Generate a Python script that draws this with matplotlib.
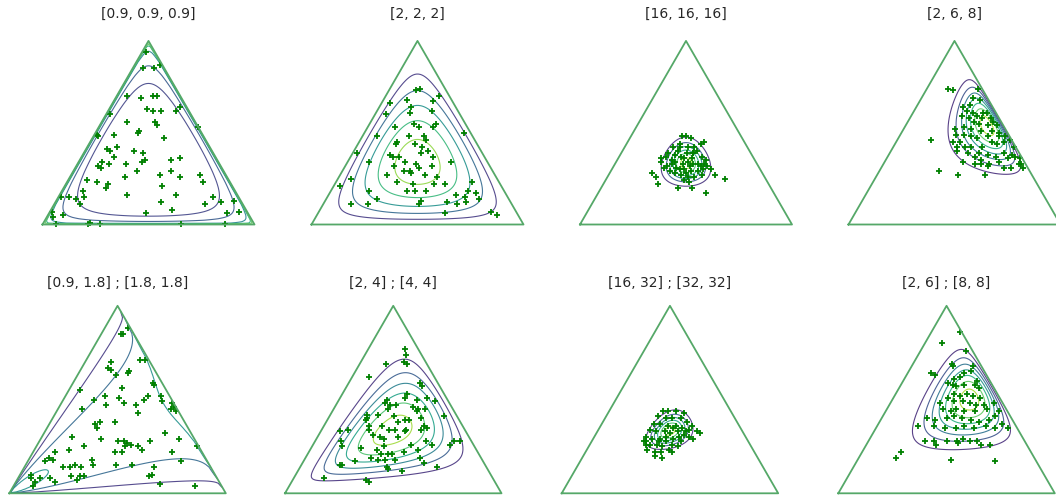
import math
import numpy as np
import matplotlib
matplotlib.use("Agg")
import matplotlib.pyplot as plt
import matplotlib.tri as tri
from matplotlib.colors import Normalize

# ---------------------------------------------------------------------------
# Parameters
# ---------------------------------------------------------------------------
# Top row: Dirichlet concentration vectors
dir_alpha_1 = [0.9, 0.9, 0.9]
dir_alpha_2 = [2, 2, 2]
dir_alpha_3 = [16, 16, 16]
dir_alpha_4 = [2, 6, 8]

# Bottom row: generalized (Connor-Mosimann) Dirichlet, shapes a ; b
gd_a_5, gd_b_5 = [0.9, 1.8], [1.8, 1.8]
gd_a_6, gd_b_6 = [2, 4], [4, 4]
gd_a_7, gd_b_7 = [16, 32], [32, 32]
gd_a_8, gd_b_8 = [2, 6], [8, 8]

titles = ["[0.9, 0.9, 0.9]", "[2, 2, 2]", "[16, 16, 16]", "[2, 6, 8]",
          "[0.9, 1.8] ; [1.8, 1.8]", "[2, 4] ; [4, 4]",
          "[16, 32] ; [32, 32]", "[2, 6] ; [8, 8]"]

# Drawn samples as (share of component 2, share of component 3);
# component 1 takes the remainder.
samples_1 = [
    (0.02, 0.94), (0.05, 0.85), (0.10, 0.85), (0.12, 0.87), (0.12, 0.69), (0.17, 0.70),
    (0.19, 0.70), (0.18, 0.63), (0.21, 0.62), (0.25, 0.62), (0.33, 0.64), (0.32, 0.62),
    (0.05, 0.70), (0.02, 0.60), (0.12, 0.56), (0.25, 0.56), (0.27, 0.54), (0.09, 0.49),
    (0.20, 0.50), (0.20, 0.51), (0.34, 0.47), (0.01, 0.49), (0.02, 0.48), (0.47, 0.53),
    (0.10, 0.41), (0.14, 0.42), (0.12, 0.40), (0.15, 0.37), (0.23, 0.40), (0.28, 0.39),
    (0.31, 0.35), (0.30, 0.34), (0.43, 0.35), (0.47, 0.36), (0.11, 0.34), (0.10, 0.32),
    (0.15, 0.33), (0.12, 0.31), (0.23, 0.33), (0.30, 0.29), (0.26, 0.26), (0.42, 0.27),
    (0.46, 0.29), (0.52, 0.26), (0.61, 0.27), (0.09, 0.24), (0.14, 0.23), (0.20, 0.22),
    (0.20, 0.20), (0.46, 0.21), (0.64, 0.23), (0.10, 0.18), (0.12, 0.15), (0.32, 0.16),
    (0.55, 0.16), (0.73, 0.15), (0.50, 0.12), (0.57, 0.08), (0.01, 0.15), (0.05, 0.15),
    (0.09, 0.14), (0.12, 0.11), (0.71, 0.11), (0.78, 0.12), (0.84, 0.13), (0.84, 0.06),
    (0.89, 0.07), (0.46, 0.06), (0.01, 0.07), (0.07, 0.05), (0.03, 0.04), (0.22, 0.01),
    (0.21, 0.005), (0.27, 0.005), (0.06, 0.005), (0.65, 0.005), (0.86, 0.005)]

samples_2 = [
    (0.14, 0.74), (0.13, 0.73), (0.25, 0.70), (0.24, 0.67), (0.11, 0.68), (0.04, 0.66),
    (0.05, 0.60), (0.15, 0.64), (0.16, 0.61), (0.26, 0.62), (0.31, 0.55), (0.31, 0.53),
    (0.21, 0.55), (0.24, 0.53), (0.13, 0.53), (0.07, 0.48), (0.22, 0.48), (0.18, 0.45),
    (0.18, 0.44), (0.29, 0.48), (0.31, 0.46), (0.31, 0.42), (0.27, 0.44), (0.47, 0.50),
    (0.02, 0.39), (0.18, 0.38), (0.20, 0.37), (0.23, 0.37), (0.27, 0.34), (0.32, 0.39),
    (0.35, 0.40), (0.39, 0.37), (0.33, 0.33), (0.35, 0.31), (0.49, 0.34), (0.10, 0.34),
    (0.23, 0.32), (0.32, 0.29), (0.33, 0.28), (0.40, 0.27), (0.41, 0.32), (0.22, 0.27),
    (0.29, 0.29), (0.06, 0.25), (0.03, 0.21), (0.29, 0.23), (0.37, 0.22), (0.47, 0.22),
    (0.52, 0.22), (0.18, 0.18), (0.36, 0.18), (0.40, 0.18), (0.24, 0.14), (0.45, 0.18),
    (0.60, 0.16), (0.65, 0.18), (0.69, 0.17), (0.65, 0.15), (0.13, 0.11), (0.21, 0.11),
    (0.45, 0.13), (0.45, 0.11), (0.58, 0.12), (0.63, 0.11), (0.67, 0.12), (0.60, 0.06),
    (0.81, 0.07), (0.85, 0.05), (0.46, 0.26), (0.64, 0.23), (0.72, 0.14)]

samples_3 = [
    (0.20, 0.28), (0.23, 0.26), (0.26, 0.22), (0.36, 0.20), (0.43, 0.20), (0.51, 0.17),
    (0.56, 0.25), (0.50, 0.27), (0.20, 0.36), (0.24, 0.48), (0.26, 0.48), (0.29, 0.47),
    (0.36, 0.45), (0.35, 0.44), (0.23, 0.42), (0.25, 0.44), (0.22, 0.39), (0.22, 0.37),
    (0.26, 0.38), (0.29, 0.37), (0.31, 0.39), (0.34, 0.39), (0.35, 0.40), (0.39, 0.37),
    (0.42, 0.35), (0.28, 0.34), (0.32, 0.33), (0.34, 0.34), (0.37, 0.33), (0.39, 0.33),
    (0.27, 0.33), (0.25, 0.32), (0.30, 0.31), (0.34, 0.30), (0.38, 0.29), (0.41, 0.29),
    (0.43, 0.30), (0.44, 0.32), (0.31, 0.28), (0.34, 0.27), (0.38, 0.26), (0.41, 0.26),
    (0.44, 0.27), (0.37, 0.24), (0.40, 0.23), (0.28, 0.29), (0.24, 0.31), (0.26, 0.40),
    (0.35, 0.36), (0.41, 0.32), (0.21, 0.34), (0.26, 0.42), (0.30, 0.42), (0.33, 0.42),
    (0.47, 0.30), (0.31, 0.36), (0.36, 0.32), (0.32, 0.30), (0.34, 0.39), (0.36, 0.28),
    (0.26, 0.35), (0.42, 0.33)]

samples_4 = [
    (0.10, 0.74), (0.13, 0.73), (0.16, 0.46), (0.28, 0.29), (0.38, 0.27), (0.51, 0.27),
    (0.24, 0.74), (0.24, 0.69), (0.28, 0.68), (0.25, 0.65), (0.22, 0.64), (0.25, 0.62),
    (0.28, 0.61), (0.33, 0.61), (0.35, 0.61), (0.24, 0.59), (0.28, 0.58), (0.31, 0.59),
    (0.34, 0.58), (0.38, 0.58), (0.40, 0.56), (0.31, 0.56), (0.34, 0.55), (0.39, 0.54),
    (0.43, 0.54), (0.24, 0.52), (0.28, 0.53), (0.32, 0.52), (0.37, 0.51), (0.42, 0.51),
    (0.46, 0.50), (0.26, 0.49), (0.30, 0.49), (0.34, 0.48), (0.37, 0.47), (0.42, 0.48),
    (0.47, 0.48), (0.50, 0.48), (0.30, 0.42), (0.34, 0.42), (0.37, 0.42), (0.42, 0.42),
    (0.45, 0.45), (0.48, 0.44), (0.51, 0.45), (0.53, 0.46), (0.31, 0.40), (0.37, 0.39),
    (0.42, 0.39), (0.47, 0.38), (0.51, 0.37), (0.54, 0.39), (0.58, 0.38), (0.37, 0.34),
    (0.43, 0.33), (0.45, 0.35), (0.50, 0.33), (0.54, 0.34), (0.57, 0.36), (0.60, 0.37),
    (0.65, 0.33), (0.67, 0.31), (0.46, 0.33), (0.50, 0.32), (0.58, 0.31), (0.61, 0.31),
    (0.64, 0.33), (0.41, 0.37), (0.30, 0.45), (0.27, 0.45), (0.57, 0.42), (0.63, 0.36)]

samples_5 = [
    (0.09, 0.85), (0.10, 0.85), (0.11, 0.88), (0.12, 0.70), (0.12, 0.67), (0.14, 0.66),
    (0.23, 0.65), (0.23, 0.64), (0.18, 0.63), (0.25, 0.71), (0.27, 0.71), (0.05, 0.55),
    (0.24, 0.56), (0.37, 0.59), (0.38, 0.58), (0.44, 0.52), (0.46, 0.49), (0.14, 0.50),
    (0.18, 0.52), (0.21, 0.47), (0.25, 0.51), (0.29, 0.48), (0.35, 0.47), (0.38, 0.43),
    (0.37, 0.50), (0.38, 0.52), (0.51, 0.48), (0.53, 0.46), (0.52, 0.45), (0.55, 0.44),
    (0.11, 0.45), (0.23, 0.38), (0.21, 0.37), (0.23, 0.35), (0.30, 0.38), (0.14, 0.30),
    (0.28, 0.29), (0.36, 0.28), (0.39, 0.28), (0.41, 0.27), (0.41, 0.25), (0.43, 0.26),
    (0.47, 0.25), (0.50, 0.23), (0.51, 0.28), (0.56, 0.32), (0.64, 0.29), (0.74, 0.25),
    (0.10, 0.22), (0.16, 0.23), (0.22, 0.25), (0.38, 0.22), (0.41, 0.22), (0.09, 0.19),
    (0.08, 0.17), (0.11, 0.18), (0.18, 0.14), (0.21, 0.14), (0.23, 0.15), (0.26, 0.14),
    (0.29, 0.18), (0.31, 0.15), (0.42, 0.15), (0.49, 0.15), (0.60, 0.14), (0.71, 0.17),
    (0.64, 0.22), (0.05, 0.10), (0.06, 0.08), (0.10, 0.08), (0.09, 0.06), (0.18, 0.06),
    (0.15, 0.08), (0.28, 0.09), (0.30, 0.09), (0.28, 0.07), (0.60, 0.09), (0.61, 0.10),
    (0.67, 0.05), (0.84, 0.04), (0.09, 0.04), (0.24, 0.09)]

samples_6 = [
    (0.17, 0.77), (0.19, 0.74), (0.20, 0.70), (0.22, 0.69), (0.12, 0.69), (0.08, 0.62),
    (0.33, 0.59), (0.35, 0.57), (0.30, 0.53), (0.30, 0.51), (0.36, 0.50), (0.40, 0.51),
    (0.45, 0.49), (0.22, 0.50), (0.22, 0.48), (0.25, 0.47), (0.25, 0.45), (0.28, 0.47),
    (0.36, 0.46), (0.39, 0.45), (0.42, 0.45), (0.17, 0.42), (0.18, 0.40), (0.18, 0.39),
    (0.21, 0.36), (0.22, 0.42), (0.30, 0.41), (0.33, 0.38), (0.36, 0.39), (0.38, 0.39),
    (0.39, 0.44), (0.43, 0.40), (0.46, 0.36), (0.48, 0.35), (0.53, 0.41), (0.22, 0.34),
    (0.27, 0.36), (0.31, 0.34), (0.34, 0.34), (0.39, 0.34), (0.46, 0.34), (0.09, 0.33),
    (0.12, 0.34), (0.25, 0.31), (0.29, 0.30), (0.31, 0.29), (0.37, 0.30), (0.39, 0.33),
    (0.64, 0.28), (0.67, 0.28), (0.12, 0.28), (0.14, 0.25), (0.23, 0.24), (0.33, 0.25),
    (0.45, 0.26), (0.51, 0.28), (0.63, 0.26), (0.55, 0.26), (0.31, 0.23), (0.34, 0.21),
    (0.37, 0.21), (0.39, 0.21), (0.44, 0.22), (0.50, 0.23), (0.30, 0.19), (0.34, 0.18),
    (0.37, 0.18), (0.42, 0.18), (0.53, 0.19), (0.56, 0.16), (0.18, 0.15), (0.19, 0.15),
    (0.24, 0.17), (0.40, 0.14), (0.41, 0.13), (0.48, 0.12), (0.63, 0.14), (0.14, 0.08),
    (0.34, 0.07), (0.36, 0.06)]

samples_7 = [
    (0.25, 0.44), (0.27, 0.44), (0.31, 0.44), (0.35, 0.43), (0.24, 0.41), (0.28, 0.40),
    (0.31, 0.40), (0.35, 0.40), (0.39, 0.38), (0.42, 0.36), (0.46, 0.33), (0.48, 0.32),
    (0.24, 0.37), (0.27, 0.37), (0.31, 0.36), (0.35, 0.36), (0.38, 0.35), (0.42, 0.34),
    (0.24, 0.34), (0.27, 0.33), (0.31, 0.33), (0.34, 0.32), (0.37, 0.33), (0.41, 0.31),
    (0.44, 0.30), (0.24, 0.30), (0.27, 0.29), (0.31, 0.29), (0.34, 0.28), (0.37, 0.29),
    (0.41, 0.28), (0.25, 0.28), (0.28, 0.26), (0.31, 0.26), (0.34, 0.25), (0.38, 0.26),
    (0.41, 0.25), (0.28, 0.23), (0.32, 0.22), (0.35, 0.22), (0.38, 0.23), (0.33, 0.20),
    (0.37, 0.19), (0.26, 0.26), (0.24, 0.28), (0.46, 0.29), (0.40, 0.22), (0.34, 0.35),
    (0.39, 0.30), (0.31, 0.28), (0.41, 0.33), (0.33, 0.30)]

samples_8 = [
    (0.13, 0.86), (0.08, 0.80), (0.21, 0.76), (0.18, 0.69), (0.19, 0.68), (0.28, 0.68),
    (0.11, 0.64), (0.13, 0.63), (0.23, 0.61), (0.26, 0.64), (0.25, 0.62), (0.29, 0.65),
    (0.34, 0.60), (0.21, 0.59), (0.24, 0.58), (0.26, 0.57), (0.29, 0.58), (0.34, 0.58),
    (0.37, 0.56), (0.27, 0.53), (0.30, 0.52), (0.33, 0.53), (0.36, 0.52), (0.40, 0.51),
    (0.23, 0.48), (0.25, 0.51), (0.29, 0.49), (0.33, 0.49), (0.37, 0.48), (0.40, 0.47),
    (0.44, 0.47), (0.26, 0.45), (0.30, 0.44), (0.32, 0.45), (0.36, 0.44), (0.41, 0.44),
    (0.46, 0.45), (0.48, 0.48), (0.52, 0.44), (0.21, 0.40), (0.25, 0.39), (0.30, 0.40),
    (0.33, 0.41), (0.37, 0.40), (0.42, 0.39), (0.46, 0.38), (0.50, 0.39), (0.52, 0.41),
    (0.19, 0.36), (0.26, 0.36), (0.32, 0.35), (0.37, 0.35), (0.40, 0.36), (0.45, 0.35),
    (0.50, 0.36), (0.55, 0.35), (0.57, 0.37), (0.61, 0.35), (0.26, 0.28), (0.30, 0.28),
    (0.32, 0.26), (0.36, 0.28), (0.41, 0.28), (0.42, 0.27), (0.43, 0.29), (0.47, 0.28),
    (0.50, 0.28), (0.53, 0.26), (0.57, 0.26), (0.18, 0.22), (0.17, 0.19), (0.43, 0.18),
    (0.64, 0.17)]

# ---------------------------------------------------------------------------
# Simplex geometry and densities
# ---------------------------------------------------------------------------
SQ = math.sqrt(3) / 2
corners = np.array([[0.0, 0.0], [1.0, 0.0], [0.5, SQ]])
triangle = tri.Triangulation(corners[:, 0], corners[:, 1])
mesh = tri.UniformTriRefiner(triangle).refine_triangulation(subdiv=7)


def to_bary(x, y, tol=1e-4):
    c = y / SQ
    b = x - c / 2
    a = 1 - b - c
    return [np.clip(v, tol, 1 - tol) for v in (a, b, c)]


def log_beta(u, v):
    return math.lgamma(u) + math.lgamma(v) - math.lgamma(u + v)


def dirichlet_pdf(alpha, p):
    lc = math.lgamma(sum(alpha)) - sum(math.lgamma(a) for a in alpha)
    return np.exp(lc + sum((a - 1) * np.log(v) for a, v in zip(alpha, p)))


def gen_dirichlet_pdf(a, b, p):
    x1, x2, x3 = p
    lc = -log_beta(a[0], b[0]) - log_beta(a[1], b[1])
    return np.exp(lc + (a[0] - 1) * np.log(x1)
                  + (b[0] - a[1] - b[1]) * np.log(1 - x1)
                  + (a[1] - 1) * np.log(x2) + (b[1] - 1) * np.log(x3))


def to_plane(samples):
    s = np.array(samples, dtype=float)
    return s[:, 0] + s[:, 1] / 2, s[:, 1] * SQ


p_mesh = to_bary(mesh.x, mesh.y)
densities = [
    dirichlet_pdf(dir_alpha_1, p_mesh), dirichlet_pdf(dir_alpha_2, p_mesh),
    dirichlet_pdf(dir_alpha_3, p_mesh), dirichlet_pdf(dir_alpha_4, p_mesh),
    gen_dirichlet_pdf(gd_a_5, gd_b_5, p_mesh), gen_dirichlet_pdf(gd_a_6, gd_b_6, p_mesh),
    gen_dirichlet_pdf(gd_a_7, gd_b_7, p_mesh), gen_dirichlet_pdf(gd_a_8, gd_b_8, p_mesh),
]
all_samples = [samples_1, samples_2, samples_3, samples_4,
               samples_5, samples_6, samples_7, samples_8]


def even_levels(z, n):
    step = z.max() / (n + 0.55)
    return step * np.arange(1, n + 1), Normalize(0, step * (n + 1))


# contour settings: unbounded densities get explicit levels
contour_cfg = [
    ([2.0, 2.2, 2.6, 3.0, 3.4], Normalize(1.5, 4.0)),
    5, 6, 7,
    ([1.0, 2.0, 3.0], Normalize(0, 6)),
    6, 6, 7,
]

# ---------------------------------------------------------------------------
# Figure
# ---------------------------------------------------------------------------
FW, FH = 1056, 497
fig = plt.figure(figsize=(FW / 100, FH / 100), dpi=100)

# (left px, baseline px from top, width px)
boxes = [(42.5, 224.5, 212), (311.5, 224.5, 212), (580, 224.5, 212), (848.5, 224.5, 212),
         (9.3, 493.3, 216.5), (285, 493.3, 216.5), (561.7, 493.3, 216.5), (838.3, 493.3, 216.5)]
title_y = [14, 14, 14, 14, 283, 283, 283, 283]
edge_color = "#55a868"

for i, (left, base, w) in enumerate(boxes):
    h = w * SQ
    ax = fig.add_axes([left / FW, (FH - base) / FH, w / FW, h / FH])
    ax.set_xlim(0, 1)
    ax.set_ylim(0, SQ)
    ax.axis("off")

    z = densities[i]
    cfg = contour_cfg[i]
    if isinstance(cfg, int):
        levels, norm = even_levels(z, cfg)
    else:
        levels, norm = cfg
    ax.tricontour(mesh, z, levels=levels, cmap="viridis", norm=norm,
                  linewidths=0.8, alpha=0.9)

    px, py = to_plane(all_samples[i])
    ax.plot(px, py, "+", color="#008000", ms=3.8, mew=1.3, clip_on=False, zorder=3)

    closed = np.vstack([corners, corners[:1]])
    ax.plot(closed[:, 0], closed[:, 1], color=edge_color, lw=1.3, clip_on=False, zorder=4)

    fig.text((left + w / 2) / FW, 1 - title_y[i] / FH, titles[i],
             ha="center", va="center", fontsize=10, color="#262626")

fig.savefig("out.png", dpi=100)
